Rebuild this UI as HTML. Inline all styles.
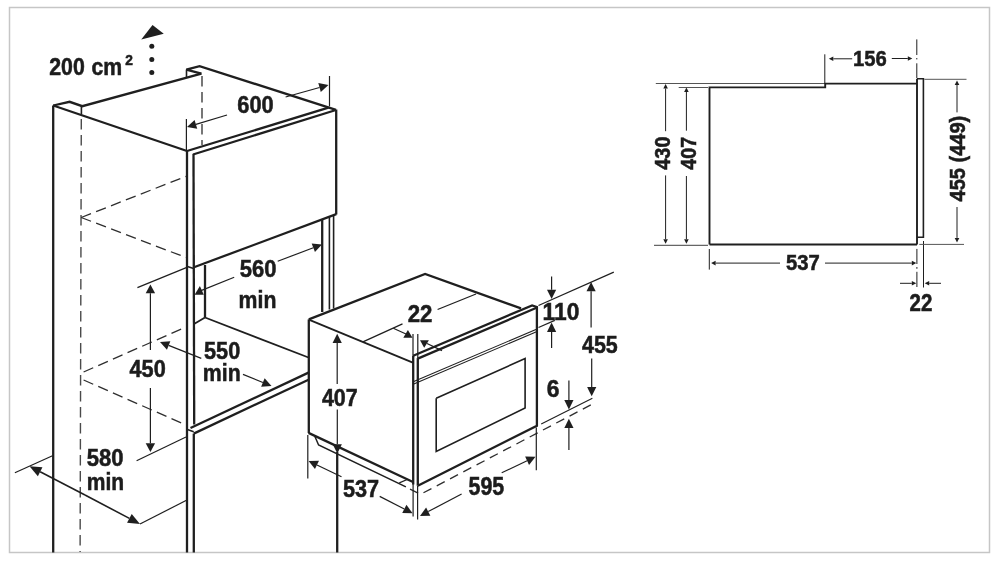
<!DOCTYPE html>
<html><head><meta charset="utf-8"><style>
html,body{margin:0;padding:0;background:#fff;}
svg{display:block;will-change:transform;}
text{font-family:"Liberation Sans",sans-serif;font-weight:bold;stroke:#1c1c1c;stroke-width:0.55px;}
</style></head><body>
<svg width="1000" height="563" viewBox="0 0 1000 563">
<rect x="0" y="0" width="1000" height="563" fill="#fff"/>
<rect x="9.5" y="7.5" width="980" height="545" fill="none" stroke="#c6c6c6" stroke-width="1.5"/>
<path d="M53.2,105.5 L53.2,552.5" stroke="#1f1f1f" stroke-width="2.3" fill="none" stroke-miterlimit="2"/>
<path d="M53.2,105.5 L69.6,101.8 L82.3,106.2 L201.4,73.65" stroke="#1f1f1f" stroke-width="2.3" fill="none" stroke-miterlimit="2"/>
<path d="M81.4,106 L81.4,114.3" stroke="#1f1f1f" stroke-width="1.6" fill="none" stroke-miterlimit="2"/>
<path d="M81.3,119 L80.1,552" stroke="#4a4a4a" stroke-width="1.4" fill="none" stroke-miterlimit="2" stroke-dasharray="10.5,5.5"/>
<path d="M53.2,105.5 L187,151" stroke="#1f1f1f" stroke-width="2.3" fill="none" stroke-miterlimit="2"/>
<path d="M201.4,73.65 L186.3,69.6 L199.6,66.1 L336,109.8" stroke="#1f1f1f" stroke-width="2.3" fill="none" stroke-miterlimit="2"/>
<path d="M186.5,69.6 L186.5,77.1" stroke="#1f1f1f" stroke-width="1.6" fill="none" stroke-miterlimit="2"/>
<path d="M202,76 L202,145" stroke="#2e2e2e" stroke-width="1.3" fill="none" stroke-miterlimit="2" stroke-dasharray="10.5,5.5"/>
<path d="M187,151 L328.5,107.7" stroke="#1f1f1f" stroke-width="2.3" fill="none" stroke-miterlimit="2"/>
<path d="M193,154.5 L336,110" stroke="#1f1f1f" stroke-width="2.3" fill="none" stroke-miterlimit="2"/>
<path d="M336.2,109.5 L336.2,214.5" stroke="#1f1f1f" stroke-width="2.3" fill="none" stroke-miterlimit="2"/>
<path d="M187,151 L187,552.5" stroke="#1f1f1f" stroke-width="2.3" fill="none" stroke-miterlimit="2"/>
<path d="M193.5,154 L194.2,424.6" stroke="#1f1f1f" stroke-width="2.3" fill="none" stroke-miterlimit="2"/>
<path d="M193.8,433.6 L193.8,552.5" stroke="#1f1f1f" stroke-width="2.3" fill="none" stroke-miterlimit="2"/>
<path d="M187.4,429.6 L193.7,431.8" stroke="#1f1f1f" stroke-width="1.6" fill="none" stroke-miterlimit="2"/>
<path d="M193.3,267.5 L336.3,214.2" stroke="#1f1f1f" stroke-width="2.3" fill="none" stroke-miterlimit="2"/>
<path d="M81.2,217.5 L186,176.3" stroke="#2e2e2e" stroke-width="1.3" fill="none" stroke-miterlimit="2" stroke-dasharray="10.5,5.5"/>
<path d="M81.2,217.5 L186,257.5" stroke="#2e2e2e" stroke-width="1.3" fill="none" stroke-miterlimit="2" stroke-dasharray="10.5,5.5"/>
<path d="M83.6,372 L186,327" stroke="#2e2e2e" stroke-width="1.3" fill="none" stroke-miterlimit="2" stroke-dasharray="10.5,5.5"/>
<path d="M83.6,380 L186,425" stroke="#2e2e2e" stroke-width="1.3" fill="none" stroke-miterlimit="2" stroke-dasharray="10.5,5.5"/>
<path d="M205,265 L205,317.5" stroke="#1f1f1f" stroke-width="2.3" fill="none" stroke-miterlimit="2"/>
<path d="M205,317.5 L308.5,357.5" stroke="#1f1f1f" stroke-width="1.8" fill="none" stroke-miterlimit="2"/>
<path d="M205,317.5 L194,324" stroke="#1f1f1f" stroke-width="1.8" fill="none" stroke-miterlimit="2"/>
<path d="M322.2,220 L322.2,312" stroke="#1f1f1f" stroke-width="2.3" fill="none" stroke-miterlimit="2"/>
<path d="M329.4,216.5 L329.4,309.5" stroke="#1f1f1f" stroke-width="1.6" fill="none" stroke-miterlimit="2"/>
<path d="M333.6,215.5 L333.6,308.5" stroke="#1f1f1f" stroke-width="1.6" fill="none" stroke-miterlimit="2"/>
<path d="M190.5,428 L308.5,372.6" stroke="#1f1f1f" stroke-width="2.3" fill="none" stroke-miterlimit="2"/>
<path d="M193.7,433.6 L308.5,379.7" stroke="#1f1f1f" stroke-width="2.3" fill="none" stroke-miterlimit="2"/>
<path d="M337.2,452 L337.2,552.5" stroke="#1f1f1f" stroke-width="2.3" fill="none" stroke-miterlimit="2"/>
<path d="M308.8,319.4 L308.8,433" stroke="#1f1f1f" stroke-width="2.3" fill="none" stroke-miterlimit="2"/>
<path d="M308.8,319.4 L425.1,273.9 L521,308.4" stroke="#1f1f1f" stroke-width="2.3" fill="none" stroke-miterlimit="2"/>
<path d="M308.8,319.6 L412.8,362.6" stroke="#1f1f1f" stroke-width="1.8" fill="none" stroke-miterlimit="2"/>
<path d="M308.5,432.9 L413,482" stroke="#1f1f1f" stroke-width="2.3" fill="none" stroke-miterlimit="2"/>
<path d="M314.8,436.3 L318.6,445 L405.9,486.9" stroke="#1f1f1f" stroke-width="1.5" fill="none" stroke-miterlimit="2"/>
<path d="M399.3,482.9 L407.8,479.2" stroke="#1f1f1f" stroke-width="1.2" fill="none" stroke-miterlimit="2"/>
<path d="M362.9,341.9 L402.5,323.9" stroke="#1f1f1f" stroke-width="1.3" fill="none" stroke-miterlimit="2"/>
<path d="M437.6,309.5 L476,294" stroke="#1f1f1f" stroke-width="1.3" fill="none" stroke-miterlimit="2"/>
<path d="M413.2,355.7 L413.2,484.5" stroke="#1f1f1f" stroke-width="2.3" fill="none" stroke-miterlimit="2"/>
<path d="M417.8,358.1 L417.8,485.7" stroke="#1f1f1f" stroke-width="2.3" fill="none" stroke-miterlimit="2"/>
<path d="M413.2,355.7 L532.1,305.4 L536.9,307 L536.9,425.8 L417.8,485.7" stroke="#1f1f1f" stroke-width="2.3" fill="none" stroke-miterlimit="2"/>
<path d="M417.8,358.6 L536.5,307.8" stroke="#1f1f1f" stroke-width="2.3" fill="none" stroke-miterlimit="2"/>
<path d="M413.2,381.7 L536.5,329.2" stroke="#1f1f1f" stroke-width="1.1" fill="none" stroke-miterlimit="2"/>
<path d="M413.2,384.2 L536.5,331.7" stroke="#1f1f1f" stroke-width="1.1" fill="none" stroke-miterlimit="2"/>
<path d="M436.2,398.3 L525.1,358.5 L525.1,408 L436.2,451.5 L436.2,398.3" stroke="#1f1f1f" stroke-width="1.6" fill="none" stroke-miterlimit="2"/>
<path d="M410,489.2 L420.6,494.3 L595.2,402.6" stroke="#2e2e2e" stroke-width="1.3" fill="none" stroke-miterlimit="2" stroke-dasharray="9,6"/>
<path d="M541.2,423.9 L592.4,398.3" stroke="#1f1f1f" stroke-width="1.1" fill="none" stroke-miterlimit="2"/>
<path d="M152.5,25 L141.25,39.5 L163.75,33.75Z" fill="#1f1f1f"/>
<circle cx="151.8" cy="46.3" r="2.5" fill="#1f1f1f"/>
<circle cx="151.8" cy="59.5" r="2.5" fill="#1f1f1f"/>
<circle cx="151.8" cy="72.5" r="2.5" fill="#1f1f1f"/>
<path d="M186.4,119 L186.4,151" stroke="#1f1f1f" stroke-width="1.2" fill="none" stroke-miterlimit="2"/>
<path d="M227,115 L195.9077844525567,124.32766466423298" stroke="#1f1f1f" stroke-width="1.2" fill="none" stroke-miterlimit="2"/>
<path d="M187,127 L194.58598417895152,119.9216637522157 L197.2295847261619,128.73366557625027Z" fill="#1f1f1f"/>
<path d="M329.5,76 L329.5,106.4" stroke="#1f1f1f" stroke-width="1.2" fill="none" stroke-miterlimit="2"/>
<path d="M285.6,97 L319.54378444890943,87.50523511918617" stroke="#1f1f1f" stroke-width="1.2" fill="none" stroke-miterlimit="2"/>
<path d="M328.5,85 L320.7829330024854,91.93519119822021 L318.3046358953335,83.07527904015213Z" fill="#1f1f1f"/>
<path d="M201,290.6 L234.2,277.3" stroke="#1f1f1f" stroke-width="1.2" fill="none" stroke-miterlimit="2"/>
<path d="M199.9,286 L194.6,294.8 L203.8,294.8Z" fill="#1f1f1f"/>
<path d="M186.6,266.2 L193.6,268.6" stroke="#1f1f1f" stroke-width="1.6" fill="none" stroke-miterlimit="2"/>
<path d="M277.7,261.3 L313.31081863827336,247.71483442467675" stroke="#1f1f1f" stroke-width="1.2" fill="none" stroke-miterlimit="2"/>
<path d="M322,244.4 L314.95041416015647,252.0127090767136 L311.67122311639025,243.4169597726399Z" fill="#1f1f1f"/>
<path d="M137.4,287.6 L186.3,267.6" stroke="#1f1f1f" stroke-width="1.2" fill="none" stroke-miterlimit="2"/>
<path d="M136.6,460.8 L186,437" stroke="#1f1f1f" stroke-width="1.2" fill="none" stroke-miterlimit="2"/>
<path d="M150.4,350 L150.4,293.2" stroke="#1f1f1f" stroke-width="1.2" fill="none" stroke-miterlimit="2"/>
<path d="M150.4,284.4 L155.1,293.2 L145.70000000000002,293.2Z" fill="#1f1f1f"/>
<path d="M150.4,388 L150.4,443.2" stroke="#1f1f1f" stroke-width="1.2" fill="none" stroke-miterlimit="2"/>
<path d="M150.4,452 L145.70000000000002,443.2 L155.1,443.2Z" fill="#1f1f1f"/>
<path d="M201.3,358.4 L168.64346614801508,345.43227227185105" stroke="#1f1f1f" stroke-width="1.2" fill="none" stroke-miterlimit="2"/>
<path d="M160,342 L170.3411492072102,341.15700944595113 L166.94578308881995,349.70753509775096Z" fill="#1f1f1f"/>
<path d="M243,374.4 L262.8861681344779,382.4940193108752" stroke="#1f1f1f" stroke-width="1.2" fill="none" stroke-miterlimit="2"/>
<path d="M271.5,386 L261.1520271484592,386.7546243196281 L264.6203091204966,378.23341430212236Z" fill="#1f1f1f"/>
<path d="M14.9,472.8 L52.5,455.7" stroke="#1f1f1f" stroke-width="1.2" fill="none" stroke-miterlimit="2"/>
<path d="M140,524 L187,500" stroke="#1f1f1f" stroke-width="1.2" fill="none" stroke-miterlimit="2"/>
<path d="M85,495 L40.15131104681262,471.7271668134811" stroke="#1f1f1f" stroke-width="1.6" fill="none" stroke-miterlimit="2"/>
<path d="M29.5,466.2 L42.45429721909643,467.28912054397586 L37.848324874528814,476.1652130829864Z" fill="#1f1f1f"/>
<path d="M85,495 L129.38517079417645,518.4030900551112" stroke="#1f1f1f" stroke-width="1.6" fill="none" stroke-miterlimit="2"/>
<path d="M140,524 L127.05312498380611,522.8259355575377 L131.71721660454676,513.9802445526847Z" fill="#1f1f1f"/>
<path d="M337.2,384 L337.2,343.1" stroke="#1f1f1f" stroke-width="1.2" fill="none" stroke-miterlimit="2"/>
<path d="M337.2,333.8 L341.8,343.1 L332.59999999999997,343.1Z" fill="#1f1f1f"/>
<path d="M337.3,409.6 L337.3,444.2" stroke="#1f1f1f" stroke-width="1.2" fill="none" stroke-miterlimit="2"/>
<path d="M337.3,453.5 L332.7,444.2 L341.90000000000003,444.2Z" fill="#1f1f1f"/>
<path d="M307.8,435 L307.8,478.6" stroke="#1f1f1f" stroke-width="1.2" fill="none" stroke-miterlimit="2"/>
<path d="M413.1,484 L413.1,516.4" stroke="#1f1f1f" stroke-width="1.2" fill="none" stroke-miterlimit="2"/>
<path d="M341.5,476.8 L316.9734114515911,464.94672468329173" stroke="#1f1f1f" stroke-width="1.2" fill="none" stroke-miterlimit="2"/>
<path d="M308.6,460.9 L318.97501720891825,460.80503729863375 L314.971805694264,469.0884120679497Z" fill="#1f1f1f"/>
<path d="M379.7,496.4 L404.31737103635743,508.9705724440974" stroke="#1f1f1f" stroke-width="1.2" fill="none" stroke-miterlimit="2"/>
<path d="M412.6,513.2 L402.2253961162335,513.0673566626733 L406.40934595648133,504.8737882255215Z" fill="#1f1f1f"/>
<path d="M417.6,486 L417.6,519.6" stroke="#1f1f1f" stroke-width="1.2" fill="none" stroke-miterlimit="2"/>
<path d="M536.3,427.5 L536.3,470.2" stroke="#1f1f1f" stroke-width="1.2" fill="none" stroke-miterlimit="2"/>
<path d="M461.6,494 L428.22931031722527,511.56774288588383" stroke="#1f1f1f" stroke-width="1.2" fill="none" stroke-miterlimit="2"/>
<path d="M420,515.9 L426.0864734650818,507.49733133112727 L430.37214716936876,515.6381544406404Z" fill="#1f1f1f"/>
<path d="M501.7,472.8 L527.0942255992209,460.77906480510256" stroke="#1f1f1f" stroke-width="1.2" fill="none" stroke-miterlimit="2"/>
<path d="M535.5,456.8 L529.0623651802393,464.9367596700041 L525.1260860182024,456.621369940201Z" fill="#1f1f1f"/>
<path d="M413,334 L413,355.7" stroke="#1f1f1f" stroke-width="1.2" fill="none" stroke-miterlimit="2"/>
<path d="M417.8,334 L417.8,358" stroke="#1f1f1f" stroke-width="1.2" fill="none" stroke-miterlimit="2"/>
<path d="M393.3,328.2 L406,334" stroke="#1f1f1f" stroke-width="1.2" fill="none" stroke-miterlimit="2"/>
<path d="M407.9,330 L403.3,337.8 L412.5,337.8Z" fill="#1f1f1f"/>
<path d="M427,343.5 L442,350.6" stroke="#1f1f1f" stroke-width="1.2" fill="none" stroke-miterlimit="2"/>
<path d="M420,340.3 L428.9,340.3 L424.2,347.7Z" fill="#1f1f1f"/>
<path d="M551.6,276.4 L551.6,289.8" stroke="#1f1f1f" stroke-width="1.2" fill="none" stroke-miterlimit="2"/>
<path d="M551.6,299.1 L547.0,289.8 L556.2,289.8Z" fill="#1f1f1f"/>
<path d="M551.6,348 L551.6,331.90000000000003" stroke="#1f1f1f" stroke-width="1.2" fill="none" stroke-miterlimit="2"/>
<path d="M551.6,322.6 L556.2,331.90000000000003 L547.0,331.90000000000003Z" fill="#1f1f1f"/>
<path d="M538.5,305.5 L613.8,272.1" stroke="#1f1f1f" stroke-width="1.2" fill="none" stroke-miterlimit="2"/>
<path d="M538.5,327.5 L554.8,320.4" stroke="#1f1f1f" stroke-width="1.2" fill="none" stroke-miterlimit="2"/>
<path d="M591.1,327.5 L591.1,291.3" stroke="#1f1f1f" stroke-width="1.2" fill="none" stroke-miterlimit="2"/>
<path d="M591.1,282 L595.7,291.3 L586.5,291.3Z" fill="#1f1f1f"/>
<path d="M591.7,358.5 L591.7,386.9" stroke="#1f1f1f" stroke-width="1.2" fill="none" stroke-miterlimit="2"/>
<path d="M591.7,396.2 L587.1,386.9 L596.3000000000001,386.9Z" fill="#1f1f1f"/>
<path d="M568.9,380.6 L568.9,400.09999999999997" stroke="#1f1f1f" stroke-width="1.2" fill="none" stroke-miterlimit="2"/>
<path d="M568.9,409.4 L564.3,400.09999999999997 L573.5,400.09999999999997Z" fill="#1f1f1f"/>
<path d="M568.9,450 L568.9,428.0" stroke="#1f1f1f" stroke-width="1.2" fill="none" stroke-miterlimit="2"/>
<path d="M568.9,418.7 L573.5,428.0 L564.3,428.0Z" fill="#1f1f1f"/>
<path d="M655.8,83.5 L825,83.5" stroke="#555" stroke-width="1.0" fill="none" stroke-miterlimit="2"/>
<path d="M678.7,87.5 L708,87.5" stroke="#555" stroke-width="1.0" fill="none" stroke-miterlimit="2"/>
<path d="M709.5,244.5 L709.5,87.4 L825.2,87.4 L825.2,83.6 L916.9,83.6" stroke="#1f1f1f" stroke-width="1.9" fill="none" stroke-miterlimit="2"/>
<path d="M709.5,244.5 L917,244.5" stroke="#1f1f1f" stroke-width="1.9" fill="none" stroke-miterlimit="2"/>
<path d="M917,78.8 L917,244.5" stroke="#1f1f1f" stroke-width="1.9" fill="none" stroke-miterlimit="2"/>
<path d="M917,78.8 L923.4,78.8 L923.4,237.2 L917,237.2" stroke="#1f1f1f" stroke-width="1.6" fill="none" stroke-miterlimit="2"/>
<path d="M654,245.3 L708,245.3" stroke="#666" stroke-width="1.2" fill="none" stroke-miterlimit="2"/>
<path d="M665.6,131.2 L665.6,88.5" stroke="#1f1f1f" stroke-width="1.0" fill="none" stroke-miterlimit="2"/>
<path d="M665.6,84 L667.9,88.5 L663.3000000000001,88.5Z" fill="#1f1f1f"/>
<path d="M665.6,175.4 L665.6,239.2" stroke="#1f1f1f" stroke-width="1.0" fill="none" stroke-miterlimit="2"/>
<path d="M665.6,243.7 L663.3000000000001,239.2 L667.9,239.2Z" fill="#1f1f1f"/>
<path d="M686.4,130.7 L686.4,91.9" stroke="#1f1f1f" stroke-width="1.0" fill="none" stroke-miterlimit="2"/>
<path d="M686.4,87.4 L688.6999999999999,91.9 L684.1,91.9Z" fill="#1f1f1f"/>
<path d="M686.4,176 L686.4,239.2" stroke="#1f1f1f" stroke-width="1.0" fill="none" stroke-miterlimit="2"/>
<path d="M686.4,243.7 L684.1,239.2 L688.6999999999999,239.2Z" fill="#1f1f1f"/>
<path d="M709.3,249 L709.3,269.6" stroke="#1f1f1f" stroke-width="1.0" fill="none" stroke-miterlimit="2"/>
<path d="M780,263.1 L715.6,263.1" stroke="#1f1f1f" stroke-width="1.0" fill="none" stroke-miterlimit="2"/>
<path d="M711.1,263.1 L715.6,260.8 L715.6,265.40000000000003Z" fill="#1f1f1f"/>
<path d="M825,263.1 L911.8,263.1" stroke="#1f1f1f" stroke-width="1.0" fill="none" stroke-miterlimit="2"/>
<path d="M916.3,263.1 L911.8,265.40000000000003 L911.8,260.8Z" fill="#1f1f1f"/>
<path d="M916.9,248.9 L916.9,264" stroke="#1f1f1f" stroke-width="1.0" fill="none" stroke-miterlimit="2"/>
<path d="M916.9,267 L916.9,268.8" stroke="#1f1f1f" stroke-width="1.0" fill="none" stroke-miterlimit="2"/>
<path d="M916.9,271.8 L916.9,287" stroke="#1f1f1f" stroke-width="1.0" fill="none" stroke-miterlimit="2"/>
<path d="M923.5,241 L923.5,287.5" stroke="#1f1f1f" stroke-width="1.0" fill="none" stroke-miterlimit="2"/>
<path d="M900,283.3 L911.8,283.3" stroke="#1f1f1f" stroke-width="1.0" fill="none" stroke-miterlimit="2"/>
<path d="M916.3,283.3 L911.8,285.6 L911.8,281.0Z" fill="#1f1f1f"/>
<path d="M941,283.3 L929.2,283.3" stroke="#1f1f1f" stroke-width="1.0" fill="none" stroke-miterlimit="2"/>
<path d="M924.7,283.3 L929.2,281.0 L929.2,285.6Z" fill="#1f1f1f"/>
<path d="M919.3,244.4 L964,244.4" stroke="#555" stroke-width="1.0" fill="none" stroke-miterlimit="2"/>
<path d="M924.3,79.3 L966.5,79.3" stroke="#555" stroke-width="1.0" fill="none" stroke-miterlimit="2"/>
<path d="M957,112.4 L957.0,84.9" stroke="#1f1f1f" stroke-width="1.0" fill="none" stroke-miterlimit="2"/>
<path d="M957,80.4 L959.3,84.9 L954.7,84.9Z" fill="#1f1f1f"/>
<path d="M957,207 L957.0,237.9" stroke="#1f1f1f" stroke-width="1.0" fill="none" stroke-miterlimit="2"/>
<path d="M957,242.4 L954.7,237.9 L959.3,237.9Z" fill="#1f1f1f"/>
<path d="M824.8,54.3 L824.8,83.6" stroke="#1f1f1f" stroke-width="1.0" fill="none" stroke-miterlimit="2"/>
<path d="M852.2,58.8 L833.3,58.8" stroke="#1f1f1f" stroke-width="1.0" fill="none" stroke-miterlimit="2"/>
<path d="M828.8,58.8 L833.3,56.5 L833.3,61.099999999999994Z" fill="#1f1f1f"/>
<path d="M891.8,58.5 L907.8,58.5" stroke="#1f1f1f" stroke-width="1.0" fill="none" stroke-miterlimit="2"/>
<path d="M912.3,58.5 L907.8,60.8 L907.8,56.2Z" fill="#1f1f1f"/>
<path d="M916.8,39.4 L916.8,55" stroke="#1f1f1f" stroke-width="1.0" fill="none" stroke-miterlimit="2"/>
<path d="M916.8,58 L916.8,59.4" stroke="#1f1f1f" stroke-width="1.0" fill="none" stroke-miterlimit="2"/>
<path d="M916.8,63.3 L916.8,78" stroke="#1f1f1f" stroke-width="1.0" fill="none" stroke-miterlimit="2"/>
<text transform="translate(49.25,75.11) scale(0.890,1)" font-size="23.94" fill="#1c1c1c">200</text>
<text transform="translate(91.55,75.11) scale(0.886,1)" font-size="24.00" fill="#1c1c1c">cm</text>
<text transform="translate(125.32,65.05) scale(0.953,1)" font-size="14.43" fill="#1c1c1c">2</text>
<text transform="translate(237.34,112.51) scale(0.896,1)" font-size="24.37" fill="#1c1c1c">600</text>
<text transform="translate(239.84,277.01) scale(0.925,1)" font-size="23.80" fill="#1c1c1c">560</text>
<text transform="translate(238.62,308.15) scale(0.886,1)" font-size="24.00" fill="#1c1c1c">min</text>
<text transform="translate(204.05,359.41) scale(0.901,1)" font-size="24.08" fill="#1c1c1c">550</text>
<text transform="translate(202.82,380.95) scale(0.897,1)" font-size="23.72" fill="#1c1c1c">min</text>
<text transform="translate(129.57,376.81) scale(0.922,1)" font-size="23.52" fill="#1c1c1c">450</text>
<text transform="translate(86.64,466.31) scale(0.927,1)" font-size="23.80" fill="#1c1c1c">580</text>
<text transform="translate(86.83,490.15) scale(0.876,1)" font-size="24.00" fill="#1c1c1c">min</text>
<text transform="translate(407.72,321.65) scale(0.915,1)" font-size="24.29" fill="#1c1c1c">22</text>
<text transform="translate(542.62,319.81) scale(0.946,1)" font-size="24.08" fill="#1c1c1c">110</text>
<text transform="translate(581.98,352.60) scale(0.869,1)" font-size="24.71" fill="#1c1c1c">455</text>
<text transform="translate(546.80,396.80) scale(0.923,1)" font-size="24.79" fill="#1c1c1c">6</text>
<text transform="translate(321.88,405.50) scale(0.875,1)" font-size="24.51" fill="#1c1c1c">407</text>
<text transform="translate(342.95,496.80) scale(0.875,1)" font-size="24.79" fill="#1c1c1c">537</text>
<text transform="translate(468.46,494.80) scale(0.855,1)" font-size="25.07" fill="#1c1c1c">595</text>
<text transform="translate(852.88,65.62) scale(0.882,1)" font-size="22.96" fill="#1c1c1c">156</text>
<text transform="translate(670.33,169.70) rotate(-90) scale(0.905,1)" font-size="21.97" fill="#1c1c1c">430</text>
<text transform="translate(695.92,169.70) rotate(-90) scale(0.876,1)" font-size="22.54" fill="#1c1c1c">407</text>
<text transform="translate(964.65,201.40) rotate(-90) scale(0.913,1)" font-size="21.93" fill="#1c1c1c">455 (449)</text>
<text transform="translate(786.09,270.42) scale(0.893,1)" font-size="22.68" fill="#1c1c1c">537</text>
<text transform="translate(909.58,310.85) scale(0.891,1)" font-size="23.00" fill="#1c1c1c">22</text>
</svg>
</body></html>
